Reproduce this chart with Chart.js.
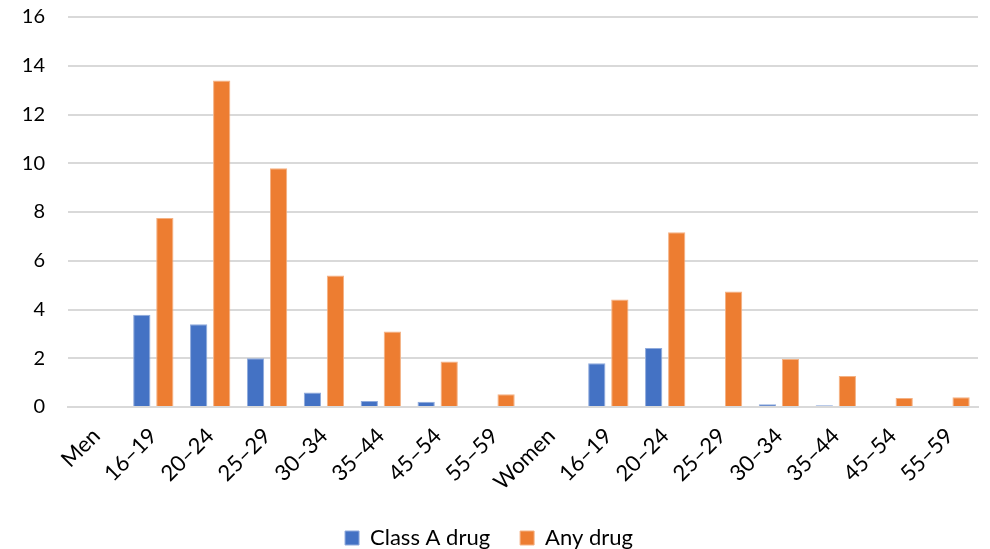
<!DOCTYPE html>
<html>
<head>
<meta charset="utf-8">
<script src="https://cdn.jsdelivr.net/npm/chart.js@4.4.1/dist/chart.umd.min.js"></script>
<style>
  html, body { margin: 0; padding: 0; background: #fff; }
  #wrap { width: 990px; height: 549px; }
</style>
</head>
<body>
<div id="wrap"><canvas id="drugChart"></canvas></div>
<script>
// categories along the x axis
const categories = ['Men', '16–19', '20–24', '25–29', '30–34', '35–44', '45–54', '55–59',
    'Women', '16–19', '20–24', '25–29', '30–34', '35–44', '45–54', '55–59'];

// series values
const classADrug = [0, 3.78, 3.39, 2.0, 0.6, 0.25, 0.22, 0,
    0, 1.8, 2.42, 0.04, 0.11, 0.07, 0, 0];
const anyDrug = [0, 7.75, 13.4, 9.8, 5.4, 3.1, 1.87, 0.52,
    0, 4.41, 7.17, 4.74, 1.97, 1.27, 0.37, 0.4];

// y axis
const yMin = 0;
const yMax = 16;
const yStep = 2;

const fontFamily = 'Lato, "Noto Sans", sans-serif';

document.addEventListener('DOMContentLoaded', () => {
    const ctx = document.getElementById('drugChart').getContext('2d');
    new Chart(ctx, {
        type: 'bar',
        data: {
            labels: categories,
            datasets: [{
                label: 'Class A drug',
                data: classADrug,
                backgroundColor: '#4472C4',
                borderColor: '#8faadc',
                borderWidth: 1
            }, {
                label: 'Any drug',
                data: anyDrug,
                backgroundColor: '#ED7D31',
                borderColor: '#f4b183',
                borderWidth: 1
            }]
        },
        options: {
            responsive: true,
            maintainAspectRatio: false,
            animation: false,
            categoryPercentage: 0.81,
            barPercentage: 0.75,
            layout: {
                padding: { left: 0, right: 12, top: 0, bottom: -10 }
            },
            plugins: {
                tooltip: { enabled: false },
                legend: {
                    position: 'bottom',
                    labels: {
                        font: { family: fontFamily, size: 22 },
                        color: '#000',
                        boxWidth: 14,
                        boxHeight: 14,
                        padding: 30
                    }
                }
            },
            scales: {
                x: {
                    grid: { display: false },
                    border: { color: '#d9d9d9', width: 2 },
                    ticks: {
                        font: { family: fontFamily, size: 22 },
                        color: '#000',
                        minRotation: 45,
                        maxRotation: 45,
                        autoSkip: false,
                        padding: 8
                    },
                    afterFit: (scale) => { scale.height = 90; }
                },
                y: {
                    min: yMin,
                    max: yMax,
                    grid: { color: '#d9d9d9', lineWidth: 2, drawTicks: false },
                    border: { display: false },
                    ticks: {
                        stepSize: yStep,
                        font: { family: fontFamily, size: 20 },
                        color: '#000',
                        padding: 23
                    },
                    afterFit: (scale) => {
                        scale.width = 68;
                        // keep the tick padding from pushing the plot down
                        scale.paddingTop = 17;
                    }
                }
            }
        }
    });
});
</script>
</body>
</html>
